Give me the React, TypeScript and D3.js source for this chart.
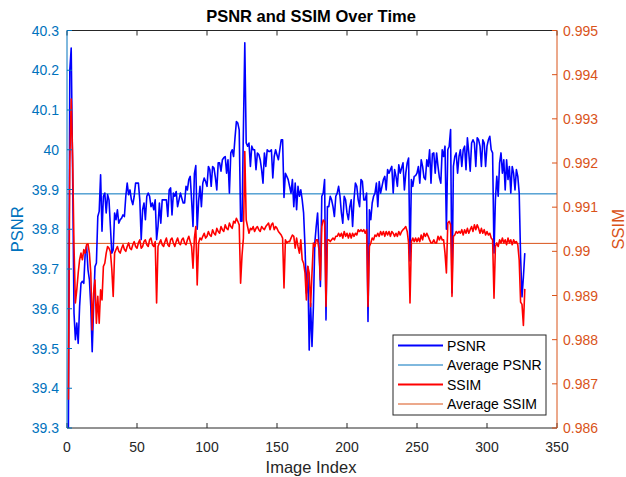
import React from "react";
import * as d3 from "d3";

const psnr: number[] = [
  39.30, 40.20, 40.256, 39.95, 39.589, 39.522, 39.564, 39.513, 39.606, 39.664,
  39.669, 39.664, 39.740, 39.757, 39.698, 39.673, 39.606, 39.492, 39.606, 39.706,
  39.715, 39.832, 39.845, 39.937, 39.795, 39.883, 39.891, 39.841, 39.887, 39.874,
  39.807, 39.740, 39.748, 39.841, 39.824, 39.849, 39.815, 39.824, 39.828, 39.836,
  39.832, 39.883, 39.916, 39.887, 39.899, 39.874, 39.862, 39.883, 39.916, 39.916,
  39.916, 39.874, 39.774, 39.849, 39.866, 39.824, 39.883, 39.891, 39.883, 39.857,
  39.866, 39.849, 39.874, 39.774, 39.807, 39.866, 39.815, 39.874, 39.874, 39.874,
  39.874, 39.832, 39.899, 39.904, 39.836, 39.891, 39.883, 39.895, 39.857, 39.874,
  39.891, 39.878, 39.866, 39.866, 39.908, 39.899, 39.925, 39.933, 39.874, 39.807,
  39.940, 39.960, 39.800, 39.870, 39.908, 39.857, 39.916, 39.929, 39.920, 39.908,
  39.958, 39.950, 39.908, 39.958, 39.954, 39.930, 39.899, 39.967, 39.967, 39.946,
  39.975, 39.980, 39.983, 39.941, 39.975, 39.891, 39.992, 40.000, 39.983, 40.030,
  40.071, 40.067, 40.050, 39.820, 39.820, 40.050, 40.269, 40.017, 40.009, 40.017,
  39.958, 40.009, 40.000, 40.000, 39.950, 39.992, 39.988, 39.975, 39.950, 39.916,
  39.992, 39.958, 40.000, 39.996, 39.996, 40.000, 39.929, 39.983, 40.000, 39.987,
  39.975, 40.000, 40.025, 40.025, 39.880, 39.941, 39.933, 39.925, 39.908, 39.891,
  39.925, 39.857, 39.916, 39.849, 39.908, 39.883, 39.899, 39.874, 39.841, 39.757,
  39.639, 39.706, 39.496, 39.614, 39.505, 39.606, 39.765, 39.807, 39.841, 39.757,
  39.656, 39.883, 39.891, 39.925, 39.572, 39.857, 39.857, 39.883, 39.874, 39.857,
  39.832, 39.883, 39.891, 39.908, 39.883, 39.841, 39.815, 39.883, 39.874, 39.841,
  39.824, 39.857, 39.874, 39.807, 39.874, 39.916, 39.908, 39.874, 39.857, 39.925,
  39.920, 39.874, 39.874, 39.891, 39.568, 39.849, 39.824, 39.866, 39.883, 39.891,
  39.916, 39.857, 39.920, 39.891, 39.908, 39.925, 39.933, 39.899, 39.950, 39.941,
  39.950, 39.958, 39.891, 39.950, 39.933, 39.908, 39.962, 39.941, 39.954, 39.967,
  39.899, 39.941, 39.967, 39.979, 39.720, 39.925, 39.908, 39.933, 39.935, 39.941,
  39.958, 39.916, 39.975, 39.958, 39.930, 39.925, 39.975, 39.958, 40.000, 39.916,
  39.990, 39.992, 39.941, 39.992, 39.958, 39.930, 39.916, 40.000, 39.983, 40.009,
  39.800, 40.000, 40.009, 40.051, 39.640, 39.958, 39.983, 39.992, 39.941, 39.983,
  40.000, 39.958, 40.000, 40.009, 39.950, 40.030, 39.992, 39.946, 40.017, 40.025,
  40.017, 39.958, 40.030, 40.025, 40.009, 39.958, 40.025, 40.017, 39.958, 40.009,
  40.025, 40.034, 40.000, 39.992, 39.740, 39.874, 39.933, 39.883, 39.967, 39.992,
  39.941, 39.975, 39.899, 39.975, 39.925, 39.958, 39.891, 39.958, 39.941, 39.899,
  39.950, 39.933, 39.891, 39.730, 39.630, 39.680, 39.740,
];

const ssim: number[] = [
  0.98664, 0.99200, 0.99345, 0.99215, 0.99011, 0.98883, 0.98913, 0.98951, 0.98981, 0.98996,
  0.98981, 0.99004, 0.98996, 0.99015, 0.99017, 0.98996, 0.98951, 0.98822, 0.98905, 0.98935,
  0.98837, 0.98898, 0.98837, 0.98913, 0.98890, 0.98966, 0.98973, 0.98996, 0.99011, 0.99007,
  0.98999, 0.98960, 0.98898, 0.98996, 0.99004, 0.99011, 0.99000, 0.98996, 0.99007, 0.99015,
  0.99004, 0.99000, 0.99011, 0.99019, 0.99007, 0.99004, 0.99015, 0.99022, 0.99011, 0.99007,
  0.99019, 0.99026, 0.99007, 0.99011, 0.99022, 0.99026, 0.99015, 0.99011, 0.99026, 0.99030,
  0.99015, 0.99011, 0.99022, 0.98883, 0.99011, 0.99019, 0.99026, 0.99015, 0.99011, 0.99022,
  0.99030, 0.99015, 0.99011, 0.99026, 0.99030, 0.99019, 0.99011, 0.99022, 0.99030, 0.99019,
  0.99015, 0.99026, 0.99030, 0.99019, 0.99015, 0.99026, 0.99034, 0.99022, 0.99011, 0.98962,
  0.99030, 0.99056, 0.98924, 0.99019, 0.99030, 0.99026, 0.99034, 0.99041, 0.99030, 0.99034,
  0.99045, 0.99037, 0.99034, 0.99049, 0.99041, 0.99037, 0.99052, 0.99045, 0.99041, 0.99056,
  0.99049, 0.99045, 0.99060, 0.99052, 0.99049, 0.99064, 0.99056, 0.99052, 0.99068, 0.99064,
  0.99075, 0.99068, 0.99060, 0.98928, 0.98990, 0.99030, 0.99226, 0.99071, 0.99056, 0.99041,
  0.99052, 0.99049, 0.99056, 0.99045, 0.99052, 0.99056, 0.99049, 0.99045, 0.99056, 0.99052,
  0.99049, 0.99056, 0.99060, 0.99064, 0.99049, 0.99060, 0.99064, 0.99049, 0.99056, 0.99052,
  0.99045, 0.99041, 0.99037, 0.99030, 0.98917, 0.99026, 0.99019, 0.99022, 0.99022, 0.99030,
  0.99037, 0.99034, 0.99007, 0.99030, 0.99011, 0.98996, 0.99026, 0.98981, 0.98973, 0.98951,
  0.98890, 0.98966, 0.98951, 0.98875, 0.98951, 0.99019, 0.99011, 0.99026, 0.99026, 0.99004,
  0.98935, 0.99056, 0.99071, 0.99068, 0.98875, 0.99026, 0.99026, 0.99022, 0.99026, 0.99030,
  0.99026, 0.99034, 0.99034, 0.99041, 0.99034, 0.99041, 0.99030, 0.99045, 0.99034, 0.99041,
  0.99030, 0.99041, 0.99030, 0.99041, 0.99034, 0.99041, 0.99037, 0.99049, 0.99045, 0.99049,
  0.99045, 0.99049, 0.99041, 0.99049, 0.98875, 0.99011, 0.99019, 0.99030, 0.99026, 0.99037,
  0.99034, 0.99041, 0.99034, 0.99045, 0.99037, 0.99045, 0.99034, 0.99045, 0.99037, 0.99045,
  0.99034, 0.99045, 0.99041, 0.99034, 0.99041, 0.99034, 0.99045, 0.99037, 0.99045, 0.99049,
  0.99052, 0.99056, 0.99045, 0.99019, 0.98883, 0.99022, 0.99030, 0.99022, 0.99030, 0.99022,
  0.99030, 0.99022, 0.99037, 0.99026, 0.99041, 0.99034, 0.99041, 0.99034, 0.99026, 0.99019,
  0.99019, 0.99026, 0.99019, 0.99019, 0.99034, 0.99026, 0.99034, 0.99026, 0.99026, 0.98996,
  0.98951, 0.99064, 0.99068, 0.99060, 0.98898, 0.99034, 0.99037, 0.99045, 0.99041, 0.99045,
  0.99041, 0.99049, 0.99037, 0.99049, 0.99041, 0.99052, 0.99041, 0.99049, 0.99056, 0.99045,
  0.99060, 0.99049, 0.99060, 0.99052, 0.99041, 0.99052, 0.99041, 0.99049, 0.99037, 0.99045,
  0.99037, 0.99041, 0.99030, 0.99026, 0.98894, 0.99011, 0.99019, 0.99011, 0.99026, 0.99019,
  0.99030, 0.99019, 0.99026, 0.99015, 0.99030, 0.99019, 0.99026, 0.99015, 0.99026, 0.99019,
  0.99022, 0.99015, 0.98980, 0.98885, 0.98880, 0.98832, 0.98915,
];

const avgPsnr = 39.889;
const avgSsim = 0.99018;

const xTicks = [0, 50, 100, 150, 200, 250, 300, 350];
const psnrTicks = [39.3, 39.4, 39.5, 39.6, 39.7, 39.8, 39.9, 40, 40.1, 40.2, 40.3];
const ssimTicks = [0.986, 0.987, 0.988, 0.989, 0.99, 0.991, 0.992, 0.993, 0.994, 0.995];
const legendLabels = ["PSNR", "Average PSNR", "SSIM", "Average SSIM"];

const W = 626, H = 477;
const L = 67, R = 557, T = 30.5, B = 428;
const BLUE_AX = "#0072BD";
const ORANGE_AX = "#D95319";
const FONT = "'Liberation Sans', Arial, Helvetica, sans-serif";

export default function App() {
  const x = d3.scaleLinear().domain([0, 350]).range([L, R]);
  const yL = d3.scaleLinear().domain([39.3, 40.3]).range([B, T]);
  const yR = d3.scaleLinear().domain([0.986, 0.995]).range([B, T]);

  const idx = psnr.map((_, i) => i + 1);
  const linePsnr = d3.line<number>().x((d) => x(d)).y((d) => yL(psnr[d - 1]))(idx) || "";
  const lineSsim = d3.line<number>().x((d) => x(d)).y((d) => yR(ssim[d - 1]))(idx) || "";

  const tickLen = 5;
  const legX = 393, legY = 335, legW = 153, legH = 80;
  const legRows = [345.5, 365, 384.5, 404];
  const legStyles = [
    { c: "#0000FF", w: 2 },
    { c: BLUE_AX, w: 1 },
    { c: "#FF0000", w: 2 },
    { c: ORANGE_AX, w: 1 },
  ];

  return (
    <svg width={W} height={H} style={{ display: "block", position: "absolute", left: 0, top: 0, background: "#fff" }} fontFamily={FONT}>
      <defs>
        <clipPath id="plotclip">
          <rect x={L} y={T} width={R - L} height={B - T} />
        </clipPath>
      </defs>
      <rect x={0} y={0} width={W} height={H} fill="#fff" />

      {/* average lines */}
      <line x1={L} x2={R} y1={yL(avgPsnr)} y2={yL(avgPsnr)} stroke={BLUE_AX} strokeWidth={1} />
      <line x1={L} x2={R} y1={yR(avgSsim)} y2={yR(avgSsim)} stroke={ORANGE_AX} strokeWidth={1} />

      <g clipPath="url(#plotclip)">
        <path d={linePsnr} fill="none" stroke="#0000FF" strokeWidth={1.6} strokeLinejoin="round" />
        <path d={lineSsim} fill="none" stroke="#FF0000" strokeWidth={1.6} strokeLinejoin="round" />
      </g>

      {/* top & bottom axes */}
      <line x1={L} x2={R} y1={T} y2={T} stroke="#262626" strokeWidth={1} />
      <line x1={L} x2={R} y1={B} y2={B} stroke="#262626" strokeWidth={1} />
      {xTicks.map((t) => (
        <g key={"xt" + t}>
          <line x1={x(t)} x2={x(t)} y1={B} y2={B - tickLen} stroke="#262626" />
          <line x1={x(t)} x2={x(t)} y1={T} y2={T + tickLen} stroke="#262626" />
          <text x={x(t)} y={452} fontSize={14} textAnchor="middle" fill="#262626">{t}</text>
        </g>
      ))}

      {/* left axis */}
      <line x1={L} x2={L} y1={T} y2={B} stroke={BLUE_AX} strokeWidth={1} />
      {psnrTicks.map((t) => (
        <g key={"yl" + t}>
          <line x1={L} x2={L + tickLen} y1={yL(t)} y2={yL(t)} stroke={BLUE_AX} />
          <text x={L - 8} y={yL(t) + 5} fontSize={14} textAnchor="end" fill={BLUE_AX}>{d3.format("")(t)}</text>
        </g>
      ))}

      {/* right axis */}
      <line x1={R} x2={R} y1={T} y2={B} stroke={ORANGE_AX} strokeWidth={1} />
      {ssimTicks.map((t) => (
        <g key={"yr" + t}>
          <line x1={R} x2={R - tickLen} y1={yR(t)} y2={yR(t)} stroke={ORANGE_AX} />
          <text x={R + 6} y={yR(t) + 5} fontSize={14} textAnchor="start" fill={ORANGE_AX}>{d3.format("")(t)}</text>
        </g>
      ))}

      {/* labels */}
      <text x={311} y={22} fontSize={16.5} fontWeight="bold" textAnchor="middle" fill="#000">PSNR and SSIM Over Time</text>
      <text x={311} y={473} fontSize={16.5} textAnchor="middle" fill="#262626">Image Index</text>
      <text transform={`translate(23,${(T + B) / 2}) rotate(-90)`} fontSize={16.5} textAnchor="middle" fill={BLUE_AX}>PSNR</text>
      <text transform={`translate(624,${(T + B) / 2}) rotate(-90)`} fontSize={16.5} textAnchor="middle" fill={ORANGE_AX}>SSIM</text>

      {/* legend */}
      <rect x={legX} y={legY} width={legW} height={legH} fill="#fff" stroke="#262626" strokeWidth={1} />
      {legendLabels.map((lab, i) => (
        <g key={lab}>
          <line x1={398} x2={443} y1={legRows[i]} y2={legRows[i]} stroke={legStyles[i].c} strokeWidth={legStyles[i].w} />
          <text x={447} y={legRows[i] + 5} fontSize={14} fill="#000">{lab}</text>
        </g>
      ))}
    </svg>
  );
}
